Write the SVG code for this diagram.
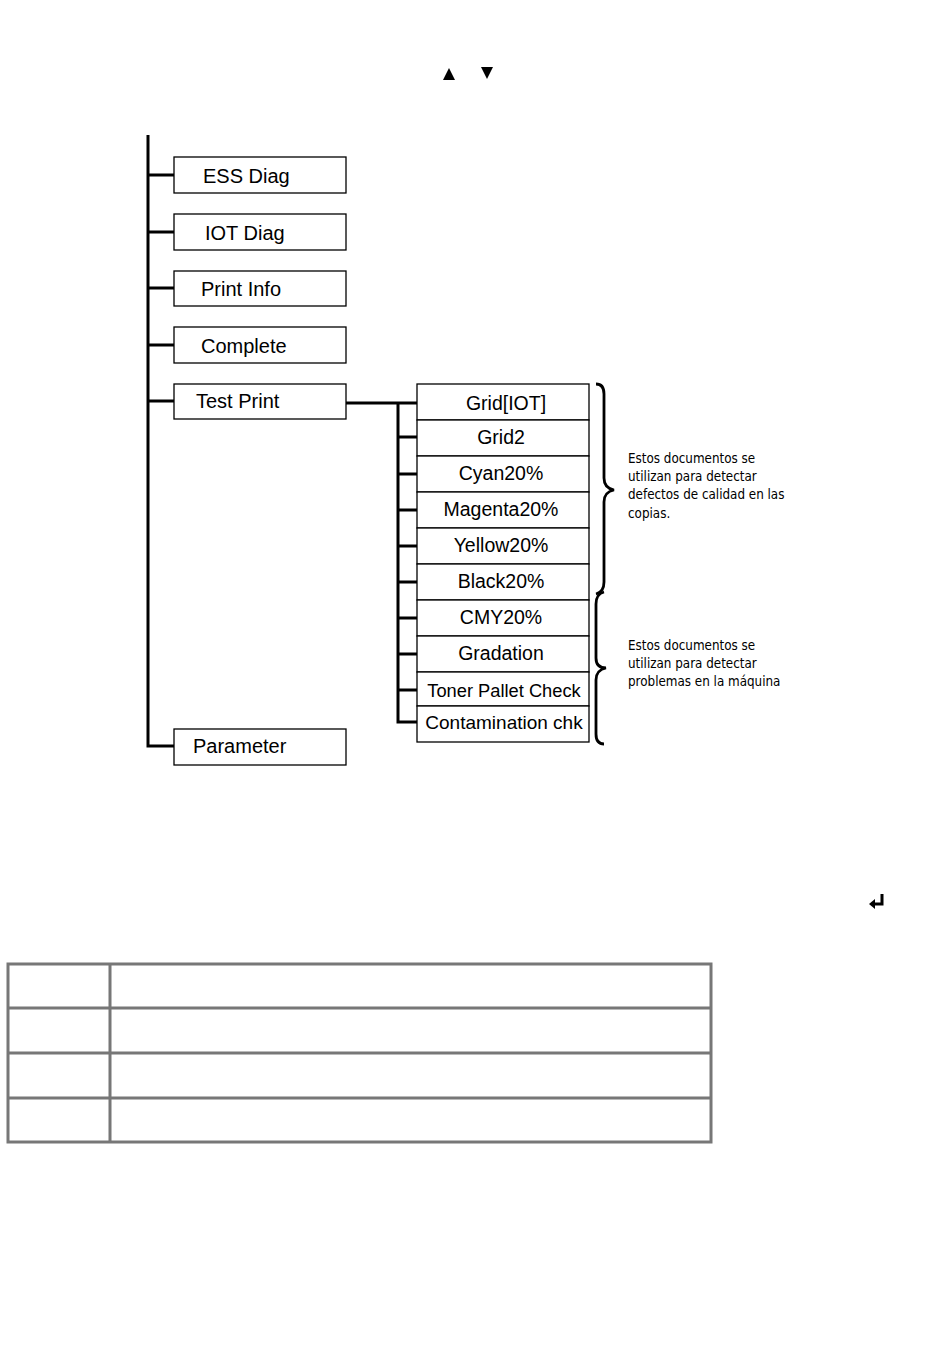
<svg xmlns="http://www.w3.org/2000/svg" width="950" height="1360" viewBox="0 0 950 1360">
<style>
.box{fill:#fff;stroke:#000;stroke-width:1.3}
.lbl{font-family:"Liberation Sans",Arial,sans-serif;font-size:19.5px;fill:#000}
.big{font-size:20px}
.c{text-anchor:middle}
.wire{fill:none;stroke:#000;stroke-width:3}
.brace{fill:none;stroke:#000;stroke-width:2.8}
.note{font-family:"DejaVu Sans Condensed","DejaVu Sans",sans-serif;font-size:13.3px;fill:#000}
.tbl{fill:none;stroke:#777;stroke-width:3}
</style>
<rect width="950" height="1360" fill="#fff"/>
<g id="arrows">
<polygon points="443,80 455,80 449,68" fill="#000"/>
<polygon points="481,67 493,67 487,79" fill="#000"/>
</g>
<g id="connectors">
<path class="wire" d="M148,135 V746 H174"/>
<path class="wire" d="M148,175 H174 M148,232 H174 M148,288 H174 M148,345 H174 M148,401 H174"/>
<path class="wire" d="M346,403 H417"/>
<path class="wire" d="M398,403 V722 H417"/>
<path class="wire" d="M398,437 H417 M398,474 H417 M398,510 H417 M398,546 H417 M398,582 H417 M398,618 H417 M398,654 H417 M398,690 H417"/>
</g>
<g id="n-ess"><rect class="box" x="174" y="157" width="172" height="36"/><text class="lbl big" x="203" y="183">ESS Diag</text></g>
<g id="n-iot"><rect class="box" x="174" y="214" width="172" height="36"/><text class="lbl big" x="205" y="240">IOT Diag</text></g>
<g id="n-printinfo"><rect class="box" x="174" y="271" width="172" height="35"/><text class="lbl big" x="201" y="296">Print Info</text></g>
<g id="n-complete"><rect class="box" x="174" y="327" width="172" height="36"/><text class="lbl big" x="201" y="353">Complete</text></g>
<g id="n-testprint"><rect class="box" x="174" y="384" width="172" height="35"/><text class="lbl big" x="196" y="408">Test Print</text></g>
<g id="n-parameter"><rect class="box" x="174" y="729" width="172" height="36"/><text class="lbl big" x="193" y="753">Parameter</text></g>
<g id="n-grid-iot"><rect class="box" x="417" y="384" width="172" height="36"/><text class="lbl c" x="506" y="410">Grid[IOT]</text></g>
<g id="n-grid2"><rect class="box" x="417" y="420" width="172" height="36"/><text class="lbl c" x="501" y="444">Grid2</text></g>
<g id="n-cyan"><rect class="box" x="417" y="456" width="172" height="36"/><text class="lbl c" x="501" y="480">Cyan20%</text></g>
<g id="n-magenta"><rect class="box" x="417" y="492" width="172" height="36"/><text class="lbl c" x="501" y="516">Magenta20%</text></g>
<g id="n-yellow"><rect class="box" x="417" y="528" width="172" height="36"/><text class="lbl c" x="501" y="552">Yellow20%</text></g>
<g id="n-black"><rect class="box" x="417" y="564" width="172" height="36"/><text class="lbl c" x="501" y="588">Black20%</text></g>
<g id="n-cmy"><rect class="box" x="417" y="600" width="172" height="36"/><text class="lbl c" x="501" y="624">CMY20%</text></g>
<g id="n-gradation"><rect class="box" x="417" y="636" width="172" height="36"/><text class="lbl c" x="501" y="660">Gradation</text></g>
<g id="n-toner"><rect class="box" x="417" y="672" width="172" height="34"/><text class="lbl c" x="504" y="697" style="font-size:18.3px">Toner Pallet Check</text></g>
<g id="n-contam"><rect class="box" x="417" y="706" width="172" height="36"/><text class="lbl c" x="504" y="729" style="font-size:19px">Contamination chk</text></g>
<g id="braces">
<path class="brace" d="M596,384 Q604,384 604,394 V478 Q604,488 614,490 Q604,492 604,502 V582 Q604,592 596,594"/>
<path class="brace" d="M604,592 Q596,594 596,604 V658 Q596,668 606,668 Q596,670 596,680 V734 Q596,744 604,744"/>
</g>
<g id="notes">
<text class="note" x="628" y="463">Estos documentos se</text>
<text class="note" x="628" y="481">utilizan para detectar</text>
<text class="note" x="628" y="499">defectos de calidad en las</text>
<text class="note" x="628" y="518">copias.</text>
<text class="note" x="628" y="650">Estos documentos se</text>
<text class="note" x="628" y="668">utilizan para detectar</text>
<text class="note" x="628" y="686">problemas en la máquina</text>
</g>
<g id="return-icon">
<path d="M882,894 V904 H873" fill="none" stroke="#000" stroke-width="3"/>
<polygon points="869,904 875,899 875,909" fill="#000"/>
</g>
<g id="table">
<rect class="tbl" x="8" y="964" width="703" height="178"/>
<path class="tbl" d="M8,1008 H711 M8,1053 H711 M8,1098 H711 M110,964 V1142"/>
</g>
</svg>
